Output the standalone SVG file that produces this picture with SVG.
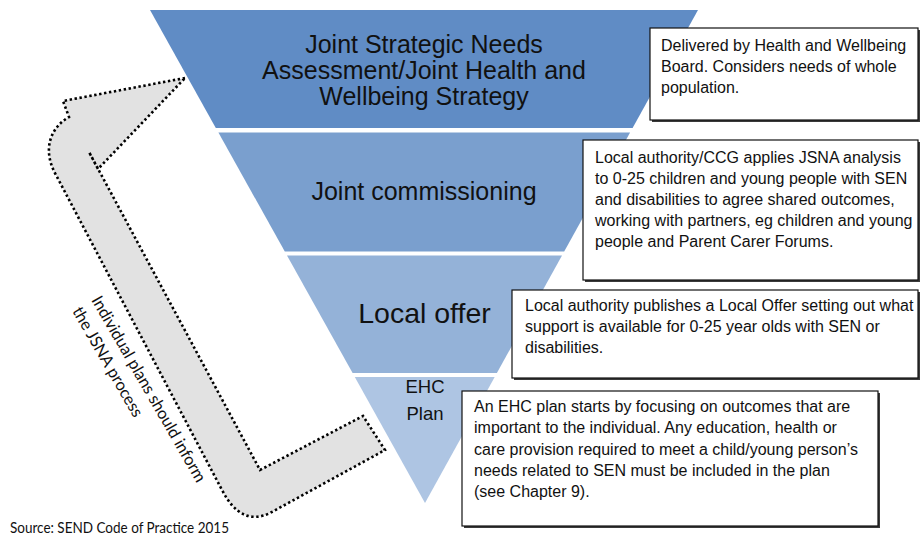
<svg xmlns="http://www.w3.org/2000/svg" width="920" height="538" viewBox="0 0 920 538">
  <style>
    .band-title { font-family: "Liberation Sans", Arial, sans-serif; fill: #111; text-anchor: middle; }
    .note { font-family: "Liberation Sans", Arial, sans-serif; font-size: 16px; fill: #111; }
    .note-box { fill: #ffffff; stroke: #111; stroke-width: 1.2; }
    .note-shadow { fill: #3a3a3a; }
    .side { font-family: Lato, "Open Sans", sans-serif; fill: #111; }
    .flow { fill: #e2e2e2; stroke: #000; stroke-width: 2.6; stroke-dasharray: 2.4 2.6; stroke-linejoin: miter; }
  </style>

  <rect width="920" height="538" fill="#ffffff"/>

  <!-- inverted triangle, split into four bands -->
  <g id="band-jsna">
    <polygon points="150,10 698,10 632.6,128 215.8,128" fill="#608cc5"/>
    <text class="band-title" font-size="25" x="424" y="53">Joint Strategic Needs</text>
    <text class="band-title" font-size="25" x="424" y="79">Assessment/Joint Health and</text>
    <text class="band-title" font-size="25" x="424" y="105">Wellbeing Strategy</text>
  </g>
  <g id="band-commissioning">
    <polygon points="218.4,132.5 630.1,132.5 564.2,251.5 284.8,251.5" fill="#7a9fce"/>
    <text class="band-title" font-size="25" x="424" y="200">Joint commissioning</text>
  </g>
  <g id="band-local-offer">
    <polygon points="287,255.5 562,255.5 496.9,373 352.6,373" fill="#94b2d8"/>
    <text class="band-title" font-size="28.5" x="424.5" y="323">Local offer</text>
  </g>
  <g id="band-ehc">
    <polygon points="354.8,377 494.7,377 425,503" fill="#aec5e3"/>
    <text class="band-title" font-size="18.5" x="425" y="393">EHC</text>
    <text class="band-title" font-size="18.5" x="425" y="420">Plan</text>
  </g>

  <!-- bent feedback arrow from the EHC plan back up to the JSNA -->
  <g id="connectors">
    <path class="flow" d="M185,78 L63,101 L69,117 C50,128 42,150 56,175 L222,490 Q241,527 270,513 L385,450 L363,416 L260,470 L89,152 L98,169 Z"/>
  </g>

  <g id="arrow-label" transform="translate(91,300) rotate(60)">
    <text class="side" font-size="16.5" x="0" y="0" textLength="212" lengthAdjust="spacingAndGlyphs">Individual plans should inform</text>
    <text class="side" font-size="16.5" x="0" y="22" textLength="124" lengthAdjust="spacingAndGlyphs">the JSNA process</text>
  </g>

  <!-- explanatory notes -->
  <g id="note-jsna">
    <rect class="note-shadow" x="652" y="30" width="268" height="92"/>
    <rect class="note-box" x="650" y="28" width="268" height="92"/>
    <text class="note" x="661" y="51">Delivered by Health and Wellbeing</text>
    <text class="note" x="661" y="72">Board. Considers needs of whole</text>
    <text class="note" x="661" y="93">population.</text>
  </g>
  <g id="note-commissioning">
    <rect class="note-shadow" x="585" y="142" width="335" height="140"/>
    <rect class="note-box" x="583" y="140" width="335" height="140"/>
    <text class="note" x="595" y="163">Local authority/CCG applies JSNA analysis</text>
    <text class="note" x="595" y="184">to 0-25 children and young people with SEN</text>
    <text class="note" x="595" y="205">and disabilities to agree shared outcomes,</text>
    <text class="note" x="595" y="226">working with partners, eg children and young</text>
    <text class="note" x="595" y="247">people and Parent Carer Forums.</text>
  </g>
  <g id="note-local-offer">
    <rect class="note-shadow" x="514" y="292" width="406" height="88"/>
    <rect class="note-box" x="512" y="290" width="406" height="88"/>
    <text class="note" x="525" y="311">Local authority publishes a Local Offer setting out what</text>
    <text class="note" x="525" y="332">support is available for 0-25 year olds with SEN or</text>
    <text class="note" x="525" y="353">disabilities.</text>
  </g>
  <g id="note-ehc">
    <rect class="note-shadow" x="464" y="393" width="416" height="135"/>
    <rect class="note-box" x="462" y="391" width="416" height="135"/>
    <text class="note" x="474" y="412">An EHC plan starts by focusing on outcomes that are</text>
    <text class="note" x="474" y="433">important to the individual. Any education, health or</text>
    <text class="note" x="474" y="454.5">care provision required to meet a child/young person’s</text>
    <text class="note" x="474" y="476">needs related to SEN must be included in the plan</text>
    <text class="note" x="474" y="497">(see Chapter 9).</text>
  </g>

  <text class="side" font-size="14.5" x="10" y="533" textLength="219" lengthAdjust="spacingAndGlyphs">Source: SEND Code of Practice 2015</text>
</svg>
